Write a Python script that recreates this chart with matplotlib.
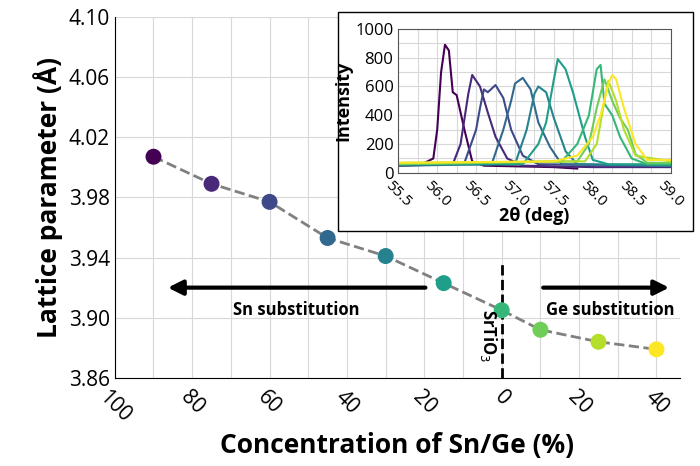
import matplotlib
matplotlib.use("Agg")
import matplotlib.pyplot as plt
from matplotlib.patches import Rectangle

plt.rcParams['font.family'] = ['Open Sans', 'DejaVu Sans']

# main data: negative = Sn, positive = Ge
conc = [-90, -75, -60, -45, -30, -15, 0, 10, 25, 40]
lattice = [4.007, 3.989, 3.977, 3.953, 3.941, 3.923, 3.905, 3.892, 3.884, 3.879]
xticks = [-100, -80, -60, -40, -20, 0, 20, 40]
xticklabels = ["100", "80", "60", "40", "20", "0", "20", "40"]

# inset XRD curves
curves = [
    ([55.5, 55.8, 55.95, 56.0, 56.05, 56.1, 56.15, 56.2, 56.25, 56.35, 56.45, 56.6, 57.5, 57.8],
     [60, 60, 100, 300, 700, 890, 850, 560, 540, 300, 80, 50, 40, 30]),
    ([55.5, 56.2, 56.3, 56.4, 56.45, 56.55, 56.65, 56.75, 56.9, 57.1, 58.0, 59.0],
     [50, 60, 200, 550, 680, 600, 420, 250, 100, 50, 40, 40]),
    ([55.5, 56.35, 56.5, 56.55, 56.6, 56.65, 56.75, 56.85, 56.95, 57.1, 57.3, 59.0],
     [50, 70, 300, 450, 580, 560, 610, 520, 300, 120, 60, 50]),
    ([55.5, 56.7, 56.85, 56.95, 57.0, 57.05, 57.1, 57.2, 57.3, 57.45, 57.6, 59.0],
     [50, 60, 300, 500, 620, 640, 660, 580, 350, 180, 60, 50]),
    ([55.5, 57.0, 57.15, 57.25, 57.3, 57.4, 57.5, 57.65, 57.8, 59.0],
     [60, 60, 300, 550, 600, 560, 380, 150, 60, 50]),
    ([55.5, 57.1, 57.3, 57.4, 57.5, 57.55, 57.65, 57.75, 57.9, 58.0, 58.2, 59.0],
     [60, 60, 200, 350, 650, 790, 720, 550, 250, 90, 60, 60]),
    ([55.5, 57.6, 57.8, 57.95, 58.05, 58.1, 58.15, 58.25, 58.35, 58.5, 58.7, 59.0],
     [60, 80, 200, 400, 720, 750, 480, 400, 250, 100, 60, 60]),
    ([55.5, 57.8, 57.95, 58.05, 58.15, 58.25, 58.35, 58.45, 58.55, 58.7, 59.0],
     [60, 80, 200, 450, 650, 500, 380, 300, 130, 70, 70]),
    ([55.5, 57.9, 58.05, 58.15, 58.2, 58.3, 58.4, 58.55, 59.0],
     [70, 80, 200, 500, 640, 500, 300, 120, 80]),
    ([55.5, 57.5, 57.8, 58.0, 58.1, 58.2, 58.25, 58.3, 58.4, 58.55, 58.7, 59.0],
     [70, 80, 120, 250, 400, 620, 680, 650, 450, 200, 90, 90]),
]

cmap = plt.get_cmap("viridis")
colors = [cmap(i / 9) for i in range(10)]

fig = plt.figure(figsize=(7, 4.66), dpi=100)
ax = fig.add_axes([0.164, 0.189, 0.807, 0.775])
ax.plot(conc, lattice, "--", color="gray", lw=2, zorder=2)
ax.scatter(conc, lattice, s=110, c=colors, zorder=3)
ax.set_xlim(-100, 46)
ax.set_ylim(3.86, 4.10)
ax.set_xticks(xticks)
ax.set_xticklabels(xticklabels, rotation=-45, ha="center", va="top", fontsize=15)
ax.set_xticks(range(-100, 46, 10), minor=True)
ax.set_yticks([3.86, 3.90, 3.94, 3.98, 4.02, 4.06, 4.10])
ax.tick_params(axis="y", labelsize=15, length=0)
ax.tick_params(axis="x", which="both", length=0, pad=6)
ax.grid(True, which="both", color="#d8d8d8", lw=0.8)
ax.set_axisbelow(True)
for s in ["top", "right"]:
    ax.spines[s].set_visible(False)
ax.set_xlabel("Concentration of Sn/Ge (%)", fontsize=19, fontweight="bold")
ax.set_ylabel("Lattice parameter (Å)", fontsize=19, fontweight="bold")

ax.annotate("", xy=(-87, 3.920), xytext=(-19, 3.920),
            arrowprops=dict(arrowstyle="-|>", color="black", lw=3, mutation_scale=22))
ax.annotate("", xy=(44, 3.920), xytext=(10, 3.920),
            arrowprops=dict(arrowstyle="-|>", color="black", lw=3, mutation_scale=22))
ax.text(-53, 3.905, "Sn substitution", ha="center", va="center", fontsize=12, fontweight="bold")
ax.text(28, 3.905, "Ge substitution", ha="center", va="center", fontsize=12, fontweight="bold")
ax.plot([0, 0], [3.86, 3.937], "--", color="black", lw=2, zorder=1)
ax.text(-3.5, 3.888, "SrTiO$_3$", rotation=270, ha="center", va="center", fontsize=12, fontweight="bold")

# inset frame
fig.patches.append(Rectangle((0.483, 0.505), 0.507, 0.47, transform=fig.transFigure,
                             facecolor="white", edgecolor="black", lw=1, zorder=5))
ins = fig.add_axes([0.569, 0.629, 0.389, 0.309], zorder=6)
for (x, y), c in zip(curves, colors):
    ins.plot(x, y, color=c, lw=1.5)
ins.set_xlim(55.5, 59.0)
ins.set_ylim(0, 1000)
ins.set_xticks([55.5, 56.0, 56.5, 57.0, 57.5, 58.0, 58.5, 59.0])
ins.set_xticklabels(["55.5", "56.0", "56.5", "57.0", "57.5", "58.0", "58.5", "59.0"],
                    rotation=-45, ha="center", va="top", fontsize=11)
ins.set_xticks([55.75 + 0.5 * i for i in range(7)], minor=True)
ins.set_yticks([0, 200, 400, 600, 800, 1000])
ins.set_yticks([100, 300, 500, 700, 900], minor=True)
ins.tick_params(axis="y", labelsize=12, length=0)
ins.tick_params(which="both", length=0)
ins.grid(True, which="both", color="#d8d8d8", lw=0.8)
ins.set_axisbelow(True)
for s in ins.spines.values():
    s.set_color("#555555")
ins.set_xlabel("2θ (deg)", fontsize=13, fontweight="bold", labelpad=-2)
ins.set_ylabel("Intensity", fontsize=13, fontweight="bold", labelpad=2)

fig.savefig("out.png", dpi=100)
